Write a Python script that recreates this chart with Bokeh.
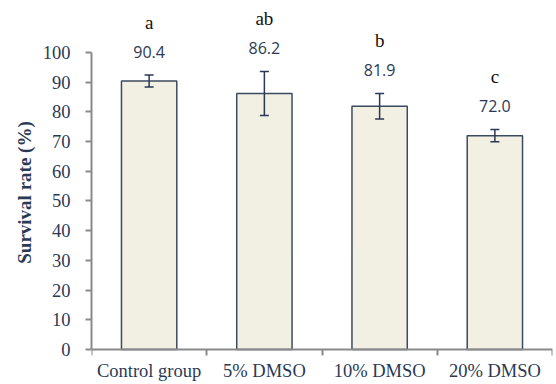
from bokeh.plotting import figure
from bokeh.models import Range1d, FixedTicker, LinearAxis, ColumnDataSource, Whisker, TeeHead
from bokeh.core.properties import value
from bokeh.embed import file_html
from bokeh.resources import INLINE

categories = ["Control group", "5% DMSO", "10% DMSO", "20% DMSO"]
means = [90.4, 86.2, 81.9, 72.0]
sds = [2.0, 7.4, 4.3, 2.1]
letters = ["a", "ab", "b", "c"]
y_ticks = [0, 10, 20, 30, 40, 50, 60, 70, 80, 90, 100]

NAVY = "#2b3955"
AXIS = "#8a8a8a"

xs = [i + 0.5 for i in range(len(categories))]
src = ColumnDataSource(dict(
    x=xs, top=means,
    upper=[m + s for m, s in zip(means, sds)],
    lower=[m - s for m, s in zip(means, sds)],
    lab=[f"{m:.1f}" for m in means],
    laby=[m + s + 7.8 for m, s in zip(means, sds)],
    let=letters,
    lety=[m + s + 7.8 + 10.0 for m, s in zip(means, sds)],
))

p = figure(width=554, height=384, output_backend="svg", toolbar_location=None,
           x_range=Range1d(0, 4), y_range=Range1d(-11.8, 117.5),
           min_border_left=91, min_border_right=2, min_border_top=0, min_border_bottom=0,
           x_axis_type=None, y_axis_type=None)
p.outline_line_color = None
p.xgrid.visible = False
p.ygrid.visible = False
p.background_fill_color = "white"

p.vbar(x="x", top="top", width=0.48, bottom=0, source=src,
       fill_color="#f2efe3", line_color="#3c4a60", line_width=1.5)

wh = Whisker(base="x", upper="upper", lower="lower", source=src, level="overlay",
             line_color=NAVY, line_width=1.5,
             upper_head=TeeHead(size=9, line_color=NAVY, line_width=1.5),
             lower_head=TeeHead(size=9, line_color=NAVY, line_width=1.5))
p.add_layout(wh)

p.text(x="x", y="laby", text="lab", source=src, text_align="center", text_baseline="middle",
       text_font=value("Open Sans"), text_font_size="16px", text_color=NAVY)
p.text(x="x", y="lety", text="let", source=src, text_align="center", text_baseline="middle",
       text_font=value("Liberation Serif"), text_font_size="19px", text_color="#111111")

yax = LinearAxis(ticker=FixedTicker(ticks=y_ticks), bounds=(0, 100))
yax.axis_label = "Survival rate (%)"
yax.axis_label_text_font = "Liberation Serif"
yax.axis_label_text_font_style = "bold"
yax.axis_label_text_font_size = "19px"
yax.axis_label_text_color = NAVY
yax.axis_label_standoff = 5
yax.major_label_text_font = "Liberation Serif"
yax.major_label_text_font_size = "18.5px"
yax.major_label_text_color = NAVY
yax.major_label_standoff = 15
yax.axis_line_color = AXIS
yax.axis_line_width = 2
yax.major_tick_line_color = AXIS
yax.major_tick_line_width = 2
yax.major_tick_out = 6
yax.major_tick_in = 0
yax.minor_tick_line_color = None
p.add_layout(yax, "left")

xax = LinearAxis(ticker=FixedTicker(ticks=xs, minor_ticks=[0, 1, 2, 3, 4]), fixed_location=0)
xax.major_label_overrides = {x: c for x, c in zip(xs, categories)}
xax.major_label_text_font = "Liberation Serif"
xax.major_label_text_font_size = "18.5px"
xax.major_label_text_color = NAVY
xax.major_label_standoff = 6
xax.axis_line_color = AXIS
xax.axis_line_width = 2
xax.major_tick_line_color = None
xax.minor_tick_line_color = AXIS
xax.minor_tick_line_width = 2
xax.minor_tick_out = 6
xax.minor_tick_in = 0
p.add_layout(xax, "below")

open("out.html", "w").write(file_html(p, INLINE))
